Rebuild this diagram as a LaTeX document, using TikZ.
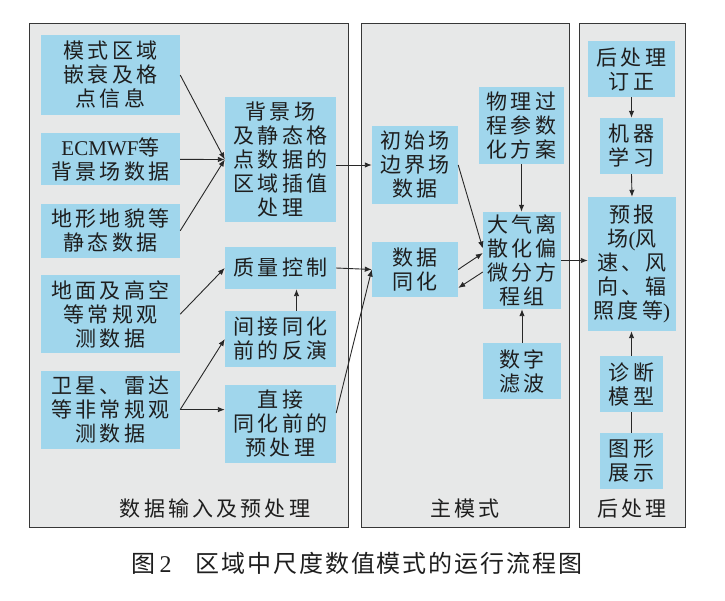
\documentclass[tikz,border=0pt]{standalone}
\usepackage{fontspec}
\setmainfont{Liberation Serif}
\newfontfamily\cjkfont[LetterSpace=15]{Noto Sans CJK SC}
\newfontfamily\capcjkfont[LetterSpace=8]{Noto Sans CJK SC}
\usetikzlibrary{arrows.meta,positioning}
\definecolor{boxColor}{RGB}{160,214,236}
\definecolor{panelColor}{RGB}{231,232,232}
\definecolor{frameColor}{RGB}{55,55,55}
\definecolor{lineColor}{RGB}{40,40,40}
\definecolor{textColor}{RGB}{30,30,30}
\newcommand{\diagfont}{\fontsize{21}{24}\selectfont\cjkfont}
\newcommand{\capfont}{\fontsize{24}{26}\selectfont\capcjkfont}

\begin{document}
\begin{tikzpicture}[x=1pt, y=-1pt,
    blk/.style={fill=boxColor, inner sep=0pt, align=center, font=\diagfont, text=textColor},
    panel/.style={draw=frameColor, line width=0.9pt, fill=panelColor, inner sep=0pt, minimum height=504pt},
    tag/.style={font=\diagfont, text=textColor},
    arr/.style={-{Latex[length=7pt,width=5.5pt]}, line width=0.9pt, lineColor},
    lnk/.style={line width=0.9pt, lineColor}
  ]
  \useasboundingbox[fill=white] (0,0) rectangle (725,601);

  % three panels
  \node[panel, minimum width=319pt] (pin) at (188.5,275) {};
  \node[panel, minimum width=208pt] (pmain) at (465,275) {};
  \node[panel, minimum width=106pt] (ppost) at (632,275) {};
  \node[tag] (lin) at (215,509) {数据输入及预处理};
  \node[tag] (lmain) at (465,509) {主模式};
  \node[tag] (lpost) at (632,509) {后处理};

  % data input
  \node[blk, minimum width=139pt, minimum height=80pt] (grid) at (110.5,75) {模式区域\\嵌衰及格\\点信息};
  \node[blk, minimum width=139pt, minimum height=52pt, below=18pt of grid] (ecmwf) {{\rmfamily ECMWF}等\\背景场数据};
  \node[blk, minimum width=139pt, minimum height=54pt, below=18pt of ecmwf] (terrain) {地形地貌等\\静态数据};
  \node[blk, minimum width=139pt, minimum height=78pt, below=17pt of terrain] (conv) {地面及高空\\等常规观\\测数据};
  \node[blk, minimum width=139pt, minimum height=78pt, below=17pt of conv] (unconv) {卫星、雷达\\等非常规观\\测数据};

  \node[blk, minimum width=111pt, minimum height=125pt] (interp) at (280.5,159.5) {背景场\\及静态格\\点数据的\\区域插值\\处理};
  \node[blk, minimum width=111pt, minimum height=42pt] (qc) at (280.5,268) {质量控制};
  \node[blk, minimum width=111pt, minimum height=56pt] (retr) at (280.5,339) {间接同化\\前的反演};
  \node[blk, minimum width=111pt, minimum height=78pt] (prep) at (280.5,424) {直接\\同化前的\\预处理};

  % main model
  \node[blk, minimum width=86pt, minimum height=78pt] (init) at (415,165) {初始场\\边界场\\数据};
  \node[blk, minimum width=86pt, minimum height=55pt] (assim) at (415,269.5) {数据\\同化};
  \node[blk, minimum width=85pt, minimum height=77pt] (phys) at (521.5,125.5) {物理过\\程参数\\化方案};
  \node[blk, minimum width=78pt, minimum height=97pt] (pde) at (522,260.5) {大气离\\散化偏\\微分方\\程组};
  \node[blk, minimum width=78pt, minimum height=56pt] (filt) at (522,371) {数字\\滤波};

  % post processing
  \node[blk, minimum width=87pt, minimum height=56pt] (corr) at (631.5,69) {后处理\\订正};
  \node[blk, minimum width=63pt, minimum height=56pt] (ml) at (631.5,146) {机器\\学习};
  \node[blk, minimum width=88pt, minimum height=134pt] (fcst) at (632,264) {预报\\场{\rmfamily(}风\\速、风\\向、辐\\照度等{\rmfamily)}};
  \node[blk, minimum width=63pt, minimum height=56pt] (diag) at (631.5,384) {诊断\\模型};
  \node[blk, minimum width=63pt, minimum height=56pt] (show) at (631.5,461) {图形\\展示};

  \node[font=\capfont, text=textColor] (cap) at (357,563) {图\hspace{4pt}{\rmfamily 2}\hspace{24pt}区域中尺度数值模式的运行流程图};

  \draw[arr] (grid.east) -- (interp.west);
  \draw[arr] (ecmwf.east) -- (interp.west);
  \draw[arr] (terrain.east) -- (interp.west);
  \draw[arr] (conv.east) -- (qc.west);
  \draw[arr] ([xshift=16pt]retr.north) -- ([xshift=16pt]qc.south);
  \draw[arr] (unconv.east) -- (retr.west);
  \draw[arr] (unconv.east) -- (unconv.east -| prep.west);

  \draw[arr] (interp.east |- init.west) -- (init.west);
  \draw[arr] (qc.east) -- (assim.west);
  \draw[arr] ([yshift=11pt]prep.east) -- (assim.west);
  \draw[arr] (init.east) -- ([yshift=12pt]pde.west);
  \draw[arr] (assim.east) -- ([yshift=7.5pt]pde.west);
  \draw[arr] ([yshift=-11.5pt]pde.west) -- ([yshift=-18.5pt]assim.east);
  \draw[arr] (phys.south) -- (phys.south |- pde.north);
  \draw[arr] (filt.north) -- (pde.south);
  \draw[arr] (pde.east) -- (pde.east -| fcst.west);

  \draw[arr] (corr.south) -- (ml.north);
  \draw[arr] (ml.south) -- (fcst.south |- fcst.north);
  \draw[arr] (diag.north) -- (diag.north |- fcst.south);
  \draw[lnk] (show.north) -- (diag.south);
\end{tikzpicture}
\end{document}
